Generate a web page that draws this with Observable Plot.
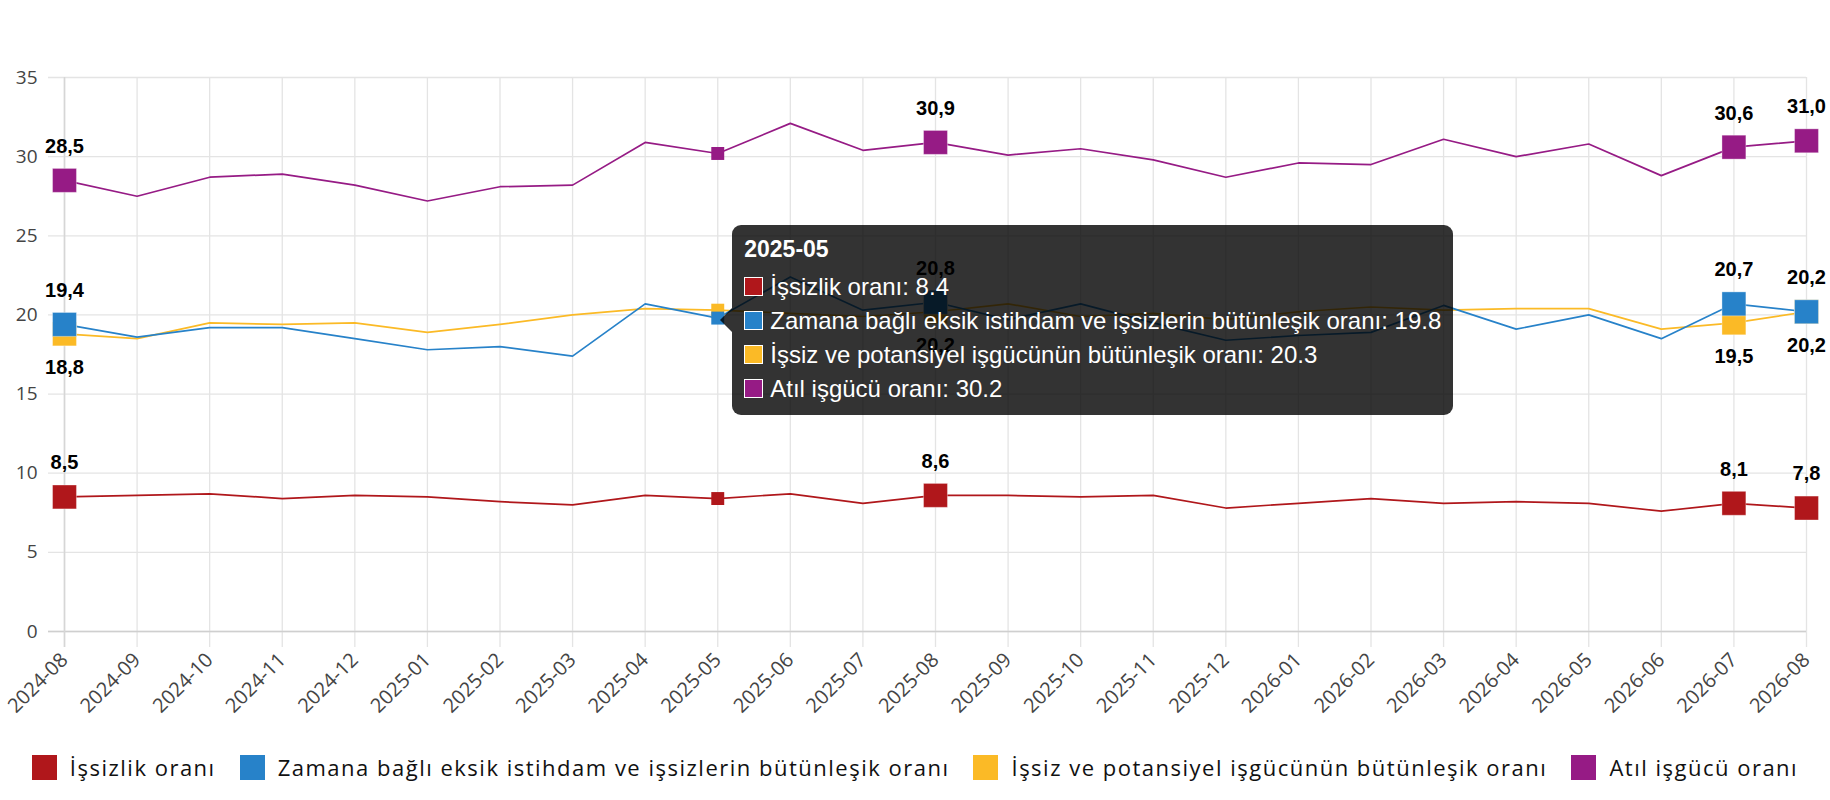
<!DOCTYPE html>
<html>
<head>
<meta charset="utf-8">
<script src="https://cdn.jsdelivr.net/npm/d3@7"></script>
<script src="https://cdn.jsdelivr.net/npm/@observablehq/plot@0.6"></script>
<style>
  html, body { margin: 0; padding: 0; background: #fff; }
  #wrap { position: relative; width: 1830px; height: 800px; overflow: hidden; }
  #chart svg { display: block; }
  #tip {
    position: absolute; background: rgba(0,0,0,0.8); color: #fff; border-radius: 9px;
    font-family: "Liberation Sans", Arial, sans-serif; padding: 10px 12px 9px 12px; box-sizing: border-box;
    white-space: nowrap;
  }
  #tip .title { font-weight: bold; font-size: 23px; line-height: 28px; margin-bottom: 7px; }
  #tip .row { display: flex; align-items: center; font-size: 24px; height: 34px; }
  #tip .box { width: 17px; height: 17px; border: 1px solid #fff; margin-right: 7px; flex: none; }
  #tip .caret { position: absolute; left: -12px; width: 0; height: 0;
    border-top: 12px solid transparent; border-bottom: 12px solid transparent; border-right: 12px solid rgba(0,0,0,0.8); }
  #legend { position: absolute; left: 0; width: 1830px; top: 752px; display: flex; justify-content: center; align-items: center;
    font-family: "Open Sans", sans-serif; font-size: 22px; letter-spacing: 1.5px; color: #111; }
  #legend .item { display: flex; align-items: center; margin: 0 12px; }
  #legend .sw { width: 25px; height: 25px; margin-right: 13px; }
</style>
</head>
<body>
<div id="wrap">
  <div id="chart"></div>
  <div id="legend"></div>
</div>
<script>
const months = ["2024-08","2024-09","2024-10","2024-11","2024-12","2025-01","2025-02","2025-03","2025-04","2025-05","2025-06","2025-07","2025-08","2025-09","2025-10","2025-11","2025-12","2026-01","2026-02","2026-03","2026-04","2026-05","2026-06","2026-07","2026-08"];
const seriesNames = ["İşsizlik oranı","Zamana bağlı eksik istihdam ve işsizlerin bütünleşik oranı","İşsiz ve potansiyel işgücünün bütünleşik oranı","Atıl işgücü oranı"];
const seriesColors = ["#b0171b","#2782c9","#fbba26","#961b85"];
const issizlik = [8.5,8.6,8.7,8.4,8.6,8.5,8.2,8.0,8.6,8.4,8.7,8.1,8.6,8.6,8.5,8.6,7.8,8.1,8.4,8.1,8.2,8.1,7.6,8.1,7.8];
const zamana   = [19.4,18.6,19.2,19.2,18.5,17.8,18.0,17.4,20.7,19.8,22.4,20.3,20.8,19.7,20.7,19.5,18.4,18.7,18.9,20.6,19.1,20.0,18.5,20.7,20.2];
const issizPot = [18.8,18.5,19.5,19.4,19.5,18.9,19.4,20.0,20.4,20.3,20.1,19.9,20.2,20.7,19.9,20.1,19.7,20.2,20.5,20.3,20.4,20.4,19.1,19.5,20.2];
const atil     = [28.5,27.5,28.7,28.9,28.2,27.2,28.1,28.2,30.9,30.2,32.1,30.4,30.9,30.1,30.5,29.8,28.7,29.6,29.5,31.1,30.0,30.8,28.8,30.6,31.0];
const yTicks = [0,5,10,15,20,25,30,35];
const labelledIdx = [0,12,23,24];
const hoverIdx = 9;
const belowSeries = seriesNames[2];

const allValues = [issizlik, zamana, issizPot, atil];
const rows = [];
// draw order: last series first so the first series ends on top
for (let s = seriesNames.length - 1; s >= 0; s--) {
  allValues[s].forEach((v, j) => rows.push({series: seriesNames[s], month: months[j], value: v, idx: j}));
}
const big = rows.filter(d => labelledIdx.includes(d.idx));
const hov = rows.filter(d => d.idx === hoverIdx);
const fmt = d => d.value.toFixed(1).replace(".", ",");
const labelFont = "'Liberation Sans', Arial, sans-serif";

const plot = Plot.plot({
  width: 1830, height: 730,
  marginTop: 77, marginLeft: 48, marginRight: 24, marginBottom: 83,
  style: {fontFamily: "'Open Sans', sans-serif", color: "#444", background: "#fff"},
  x: {type: "point", domain: months, padding: 0, round: false, insetLeft: 16, label: null},
  y: {domain: [0, 35], insetBottom: 16, label: null},
  color: {domain: seriesNames, range: seriesColors},
  marks: [
    Plot.ruleY(yTicks, {stroke: "#e4e4e4", strokeWidth: 1.3}),
    Plot.ruleX(months, {stroke: "#e4e4e4", strokeWidth: 1.3}),
    Plot.ruleY([0], {stroke: "#cfcfcf", strokeWidth: 1.6}),
    Plot.ruleX([months[0]], {stroke: "#d6d6d6", strokeWidth: 1.6}),
    Plot.axisY({ticks: yTicks, tickSize: 0, tickPadding: 11, fontSize: 19, label: null}),
    Plot.axisX({tickRotate: -45, tickSize: 0, tickPadding: 9, fontSize: 20, label: null}),
    Plot.line(rows, {x: "month", y: "value", z: "series", stroke: "series", strokeWidth: 1.7}),
    Plot.dot(hov, {x: "month", y: "value", fill: "series", symbol: "square", r: 7.3}),
    Plot.dot(big, {x: "month", y: "value", fill: "series", symbol: "square", r: 13.5, stroke: "#fff", strokeOpacity: 0.35, strokeWidth: 1}),
    Plot.text(big.filter(d => d.series !== belowSeries), {x: "month", y: "value", text: fmt, dy: -34, fontWeight: "bold", fontSize: 20, fontFamily: labelFont, fill: "#000"}),
    Plot.text(big.filter(d => d.series === belowSeries), {x: "month", y: "value", text: fmt, dy: 34, fontWeight: "bold", fontSize: 20, fontFamily: labelFont, fill: "#000"})
  ]
});
document.getElementById("chart").appendChild(plot);

// tooltip (hover state at 2025-05)
const xs = plot.scale("x"), ys = plot.scale("y");
const hoverVals = allValues.map(a => a[hoverIdx]);
const px = xs.apply(months[hoverIdx]);
const py = ys.apply(d3.mean(hoverVals));
const tip = document.createElement("div");
tip.id = "tip";
let html = `<div class="caret"></div><div class="title">${months[hoverIdx]}</div>`;
seriesNames.forEach((s, i) => {
  html += `<div class="row"><span class="box" style="background:${seriesColors[i]}"></span>${s}: ${hoverVals[i]}</div>`;
});
tip.innerHTML = html;
document.getElementById("wrap").appendChild(tip);
const th = tip.offsetHeight;
tip.style.left = (px + 15) + "px";
tip.style.top = (py - th / 2) + "px";
tip.querySelector(".caret").style.top = (th / 2 - 12) + "px";

// legend
const leg = document.getElementById("legend");
seriesNames.forEach((s, i) => {
  const it = document.createElement("div");
  it.className = "item";
  it.innerHTML = `<span class="sw" style="background:${seriesColors[i]}"></span><span>${s}</span>`;
  leg.appendChild(it);
});
</script>
</body>
</html>
